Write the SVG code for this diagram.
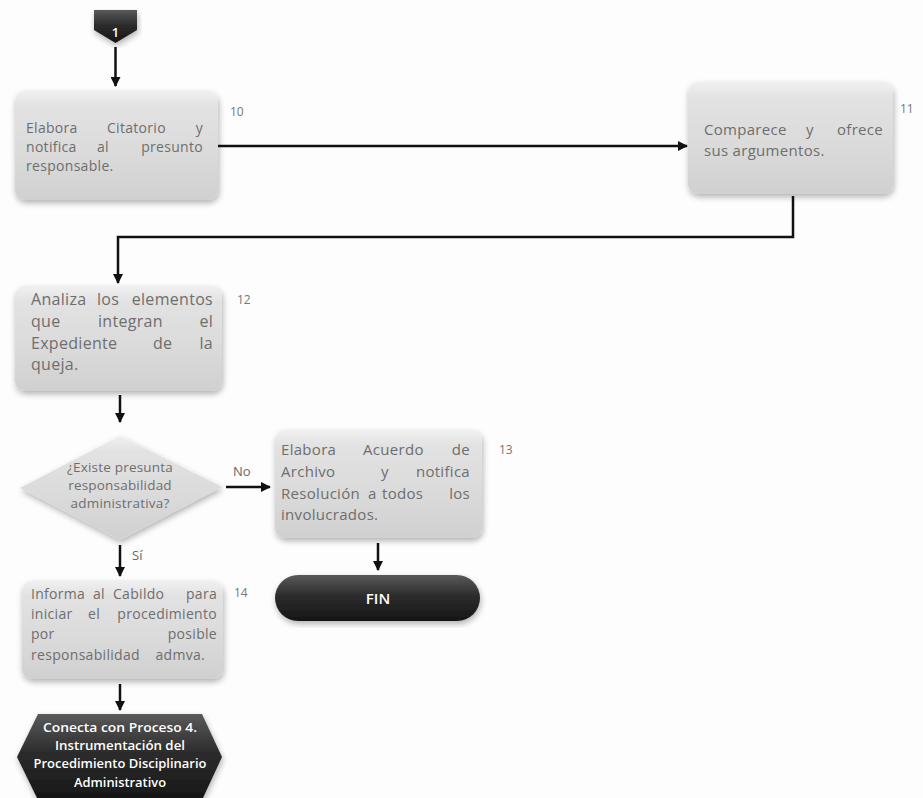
<svg xmlns="http://www.w3.org/2000/svg" width="923" height="798" viewBox="0 0 923 798">
<defs>
<linearGradient id="gBox" x1="0" y1="0" x2="0" y2="1">
<stop offset="0" stop-color="#f0f0f0"/>
<stop offset="0.15" stop-color="#e2e2e2"/>
<stop offset="0.6" stop-color="#dadada"/>
<stop offset="1" stop-color="#d0d0d0"/>
</linearGradient>
<linearGradient id="gDark" x1="0" y1="0" x2="0" y2="1">
<stop offset="0" stop-color="#5a5a5a"/>
<stop offset="0.45" stop-color="#2c2c2c"/>
<stop offset="1" stop-color="#161616"/>
</linearGradient>
<filter id="soft" x="-10%" y="-10%" width="120%" height="125%">
<feGaussianBlur in="SourceAlpha" stdDeviation="3"/>
<feOffset dx="1" dy="3" result="b"/>
<feComponentTransfer><feFuncA type="linear" slope="0.3"/></feComponentTransfer>
<feMerge><feMergeNode/><feMergeNode in="SourceGraphic"/></feMerge>
</filter>
<marker id="arr" viewBox="0 0 10 10" refX="9" refY="5" markerWidth="10" markerHeight="10" markerUnits="userSpaceOnUse" orient="auto">
<path d="M0,0 L10,5 L0,10 z" fill="#111"/>
</marker>
</defs>
<style>
.box{fill:url(#gBox);filter:url(#soft);}
.t{font-family:"Open Sans","Liberation Sans",sans-serif;fill:#6e6e6e;letter-spacing:0.3px;}
.e{text-anchor:end;}
.num{font-family:"Open Sans","Liberation Sans",sans-serif;font-size:12px;fill:#777;}
.dt{font-family:"Open Sans","Liberation Sans",sans-serif;font-size:13.5px;fill:#6e6e6e;text-anchor:middle;letter-spacing:0.2px;}
.wt{font-family:"Open Sans","Liberation Sans",sans-serif;font-weight:600;fill:#fff;text-anchor:middle;}
.c{fill:none;stroke:#111;stroke-width:2.5;}
.lbl{font-family:"Open Sans","Liberation Sans",sans-serif;font-size:13px;fill:#666;}
</style>
<rect width="923" height="798" fill="#fdfdfd"/>

<g id="conn1">
<polygon points="94,10 137,10 137,30 115.5,43 94,30" fill="url(#gDark)" filter="url(#soft)"/>
<text class="wt" x="115.5" y="37" font-size="13" font-weight="bold">1</text>
</g>

<g id="n10">
<rect class="box" x="15" y="91" width="203" height="109" rx="10"/>
<text class="t" y="133" font-size="14"><tspan x="26">Elabora</tspan><tspan x="107">Citatorio</tspan><tspan x="203" class="e">y</tspan></text>
<text class="t" y="152" font-size="14"><tspan x="26">notifica</tspan><tspan x="97">al</tspan><tspan x="203" class="e">presunto</tspan></text>
<text class="t" y="171" font-size="14"><tspan x="26">responsable.</tspan></text>
<text class="num" x="230" y="116">10</text>
</g>

<g id="n11">
<rect class="box" x="688" y="82" width="205" height="112" rx="10"/>
<text class="t" y="135" font-size="15"><tspan x="704">Comparece</tspan><tspan x="806">y</tspan><tspan x="883" class="e">ofrece</tspan></text>
<text class="t" y="156" font-size="15"><tspan x="704">sus argumentos.</tspan></text>
<text class="num" x="900" y="113">11</text>
</g>

<g id="n12">
<rect class="box" x="15" y="286" width="207" height="105" rx="10"/>
<text class="t" y="305" font-size="16"><tspan x="31">Analiza</tspan><tspan x="97">los</tspan><tspan x="213" class="e">elementos</tspan></text>
<text class="t" y="327" font-size="16"><tspan x="31">que</tspan><tspan x="98">integran</tspan><tspan x="213" class="e">el</tspan></text>
<text class="t" y="349" font-size="16"><tspan x="31">Expediente</tspan><tspan x="153">de</tspan><tspan x="213" class="e">la</tspan></text>
<text class="t" y="370" font-size="16"><tspan x="31">queja.</tspan></text>
<text class="num" x="237" y="304">12</text>
</g>

<g id="d1">
<polygon points="120,436 222,487 120,540 20,488" fill="url(#gBox)" filter="url(#soft)"/>
<text class="dt" x="120" y="472">¿Existe presunta</text>
<text class="dt" x="120" y="490">responsabilidad</text>
<text class="dt" x="120" y="508">administrativa?</text>
</g>

<g id="n13">
<rect class="box" x="275" y="430" width="207" height="108" rx="10"/>
<text class="t" y="455" font-size="15"><tspan x="281">Elabora</tspan><tspan x="363">Acuerdo</tspan><tspan x="470" class="e">de</tspan></text>
<text class="t" y="477" font-size="15"><tspan x="281">Archivo</tspan><tspan x="381">y</tspan><tspan x="470" class="e">notifica</tspan></text>
<text class="t" y="499" font-size="15"><tspan x="281">Resolución</tspan><tspan x="368">a</tspan><tspan x="382">todos</tspan><tspan x="470" class="e">los</tspan></text>
<text class="t" y="520" font-size="15"><tspan x="281">involucrados.</tspan></text>
<text class="num" x="499" y="454">13</text>
</g>

<g id="fin">
<rect x="275" y="575" width="205" height="46" rx="23" fill="url(#gDark)" filter="url(#soft)"/>
<text class="wt" x="378" y="604" font-size="15" font-weight="bold">FIN</text>
</g>

<g id="n14">
<rect class="box" x="22" y="581" width="201" height="98" rx="10"/>
<text class="t" y="599" font-size="14"><tspan x="31">Informa</tspan><tspan x="93">al</tspan><tspan x="113">Cabildo</tspan><tspan x="217" class="e">para</tspan></text>
<text class="t" y="619" font-size="14"><tspan x="31">iniciar</tspan><tspan x="88">el</tspan><tspan x="217" class="e">procedimiento</tspan></text>
<text class="t" y="639" font-size="14"><tspan x="31">por</tspan><tspan x="217" class="e">posible</tspan></text>
<text class="t" y="660" font-size="14"><tspan x="31">responsabilidad</tspan><tspan x="205" class="e">admva.</tspan></text>
<text class="num" x="234" y="597">14</text>
</g>

<g id="conn4">
<polygon points="38,714 202,714 222,757 202,800 38,800 17,757" fill="url(#gDark)" filter="url(#soft)"/>
<text class="wt" x="120" y="732" font-size="12.5" textLength="154" lengthAdjust="spacingAndGlyphs">Conecta con Proceso 4.</text>
<text class="wt" x="120" y="750" font-size="12.5" textLength="130" lengthAdjust="spacingAndGlyphs">Instrumentación del</text>
<text class="wt" x="120" y="768" font-size="12.5" textLength="173" lengthAdjust="spacingAndGlyphs">Procedimiento Disciplinario</text>
<text class="wt" x="120" y="787" font-size="12.5" textLength="92" lengthAdjust="spacingAndGlyphs">Administrativo</text>
</g>

<g id="connectors">
<path class="c" d="M115.5,47 L115.5,86" marker-end="url(#arr)"/>
<path class="c" d="M218,146 L687,146" marker-end="url(#arr)"/>
<path class="c" d="M793,196 L793,237 L118,237 L118,283" marker-end="url(#arr)"/>
<path class="c" d="M120,395 L120,422" marker-end="url(#arr)"/>
<path class="c" d="M226,487 L270,487" marker-end="url(#arr)"/>
<text class="lbl" x="233" y="476">No</text>
<path class="c" d="M378,543 L378,570" marker-end="url(#arr)"/>
<path class="c" d="M120,545 L120,576" marker-end="url(#arr)"/>
<text class="lbl" x="132" y="560">Sí</text>
<path class="c" d="M120,684 L120,710" marker-end="url(#arr)"/>
</g>
</svg>
